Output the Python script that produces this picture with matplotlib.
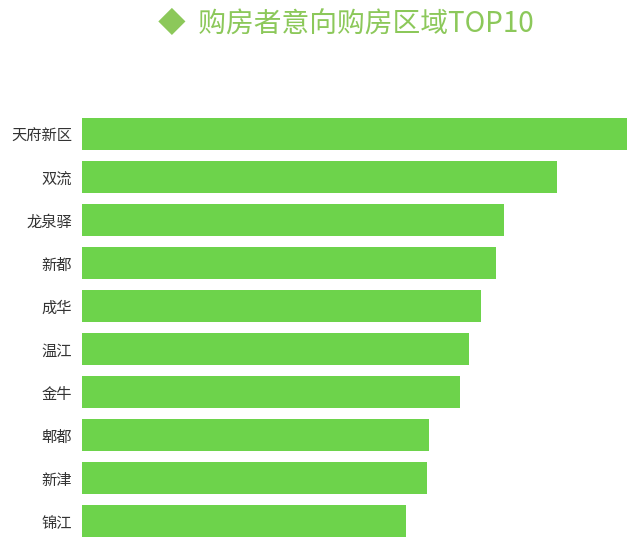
import matplotlib
matplotlib.use("Agg")
import matplotlib.pyplot as plt

plt.rcParams['font.family'] = ['Noto Sans CJK SC', 'DejaVu Sans']

# 区域与相对意向值（按图中条形长度估读）
regions = ["天府新区", "双流", "龙泉驿", "新都", "成华", "温江", "金牛", "郫都", "新津", "锦江"]
values = [545, 475, 422, 414, 399, 387, 378, 347, 345, 324]

bar_color = "#6dd34b"
title_color = "#8cc85a"

fig = plt.figure(figsize=(6.4, 5.6), dpi=100)
ax = fig.add_axes([0.128, 0.031, 0.852, 0.768])

ax.barh(range(len(regions)), values, height=0.75, color=bar_color)
ax.set_ylim(len(regions) - 0.5, -0.5)
ax.set_xlim(0, max(values))
ax.set_yticks(range(len(regions)))
ax.set_yticklabels(regions, fontsize=11, color="#333333")
ax.tick_params(axis="y", length=0, pad=7)
ax.set_xticks([])
for s in ax.spines.values():
    s.set_visible(False)

fig.text(0.54, 0.958, "◆  购房者意向购房区域TOP10", ha="center", va="center",
         fontsize=20, fontweight="medium", color=title_color)

fig.savefig("out.png", dpi=100, facecolor="white")
